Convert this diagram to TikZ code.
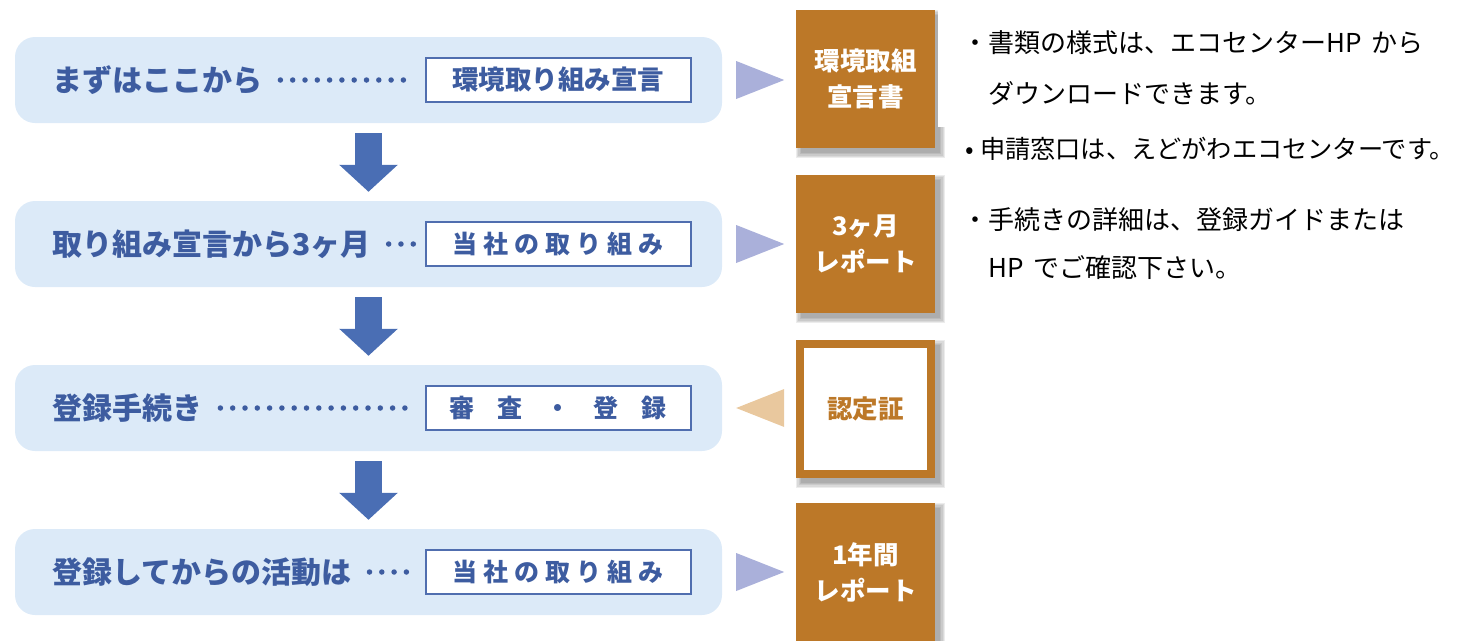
\documentclass[tikz,border=0pt]{standalone}
\usepackage{fontspec}
\setmainfont{Noto Sans CJK JP}
\usetikzlibrary{arrows.meta,calc,backgrounds}
\definecolor{rowfill}{RGB}{220,234,248}
\definecolor{bluetxt}{RGB}{61,92,160}
\definecolor{arrowblue}{RGB}{74,110,180}
\definecolor{triblue}{RGB}{170,176,218}
\definecolor{tritan}{RGB}{233,200,158}
\definecolor{ecobrown}{RGB}{188,120,40}
\definecolor{iborder}{RGB}{80,110,175}
\newcommand\myboxshadow[1]{%
  \foreach \e in {0,1.2,2.4,3.6,4.8}{%
    \fill[black,opacity=0.075] ($(#1.north west)+(5-\e,5-\e)$) rectangle ($(#1.south east)+(5+\e,5+\e)$);}}
\begin{document}
\begin{tikzpicture}[x=1pt,y=-1pt,
  rowbox/.style={fill=rowfill, rounded corners=20pt, minimum width=707pt, minimum height=86pt, inner sep=0pt},
  lab/.style={anchor=west, inner sep=0pt, text=bluetxt, font=\fontsize{30}{30}\selectfont\bfseries},
  ibox/.style={draw=iborder, line width=2pt, fill=white, minimum width=265pt, minimum height=44pt, inner sep=0pt, text=bluetxt, font=\fontsize{25}{25}\selectfont\bfseries},
  dotline/.style={draw=bluetxt, line width=5.5pt, line cap=round, dash pattern=on 0pt off 12.3pt, shorten <=18pt, shorten >=10pt},
  downarrow/.style={draw=arrowblue, line width=27pt, -{Triangle[width=57pt,length=27pt]}, shorten <=10pt, shorten >=9pt},
  bbox/.style={fill=ecobrown, text=white, minimum width=139pt, minimum height=138pt, inner sep=0pt, align=center, font=\fontsize{25.5}{36}\selectfont\bfseries},
  wbox/.style={fill=white, draw=ecobrown, line width=8pt, text=ecobrown, minimum width=131pt, minimum height=130pt, inner sep=0pt, align=center, font=\fontsize{25.5}{36}\selectfont\bfseries},
  note/.style={anchor=west, inner sep=0pt, text=black, font=\fontsize{26}{26}\selectfont}
]
\useasboundingbox (0,0) rectangle (1462,640);

% rows
\node[rowbox] (r1) at (368.5,80) {};
\node[rowbox] (r2) at (368.5,244) {};
\node[rowbox] (r3) at (368.5,408) {};
\node[rowbox] (r4) at (368.5,572) {};

% labels
\node[lab] (l1) at (52,80) {まずはここから};
\node[lab] (l2) at (52,244) {取り組み宣言から3ヶ月};
\node[lab] (l3) at (52,408) {登録手続き};
\node[lab] (l4) at (52,572) {登録してからの活動は};

% inner boxes
\node[ibox, font=\fontsize{26.5}{26.5}\selectfont\bfseries] (i1) at (558,80) {環境取り組み宣言};
\node[ibox] (i2) at (558,244) {当\kern6pt 社\kern6pt の\kern6pt 取\kern6pt り\kern6pt 組\kern6pt み};
\node[ibox] (i3) at (558,408) {審\kern23pt 査\kern23pt ・\kern23pt 登\kern23pt 録};
\node[ibox] (i4) at (558,572) {当\kern6pt 社\kern6pt の\kern6pt 取\kern6pt り\kern6pt 組\kern6pt み};

% dotted leaders
\draw[dotline] (l1.east) -- (i1.west);
\draw[dotline] (l2.east) -- (i2.west);
\draw[dotline] (l3.east) -- (i3.west);
\draw[dotline] (l4.east) -- (i4.west);

% down arrows
\draw[downarrow] (r1.south) -- (r2.north);
\draw[downarrow] (r2.south) -- (r3.north);
\draw[downarrow] (r3.south) -- (r4.north);

% triangles
\fill[triblue] ($(r1.east)+(14,-19)$) -- ($(r1.east)+(62,0)$) -- ($(r1.east)+(14,19)$) -- cycle;
\fill[triblue] ($(r2.east)+(14,-19)$) -- ($(r2.east)+(62,0)$) -- ($(r2.east)+(14,19)$) -- cycle;
\fill[tritan] ($(r3.east)+(62,-19)$) -- ($(r3.east)+(14,0)$) -- ($(r3.east)+(62,19)$) -- cycle;
\fill[triblue] ($(r4.east)+(14,-19)$) -- ($(r4.east)+(62,0)$) -- ($(r4.east)+(14,19)$) -- cycle;

% document boxes
\node[bbox] (b1) at (865.5,79) {環境取組\\宣言書};
\node[bbox] (b2) at (865.5,244) {3ヶ月\\レポート};
\node[wbox] (b3) at (865.5,409) {認定証};
\node[bbox] (b4) at (865.5,572) {1年間\\レポート};

\begin{pgfonlayer}{background}
  \myboxshadow{b1}
  \myboxshadow{b2}
  \myboxshadow{b3}
  \myboxshadow{b4}
  \fill[white] (938,0) rectangle (1462,127);
\end{pgfonlayer}

% notes
\node[note] (n1) at (962,43) {・書類の様式は、エコセンターHP\hspace{10pt}から};
\node[note] (n2) at (988,93) {ダウンロードできます。};
\node[note, font=\fontsize{25.2}{25.2}\selectfont] (n3) at (960,149) {\makebox[20pt][c]{•}申請窓口は、えどがわエコセンターです。};
\node[note] (n4) at (962,220) {・手続きの詳細は、登録ガイドまたは};
\node[note] (n5) at (988,268) {HP\hspace{10pt}でご確認下さい。};
\end{tikzpicture}
\end{document}
